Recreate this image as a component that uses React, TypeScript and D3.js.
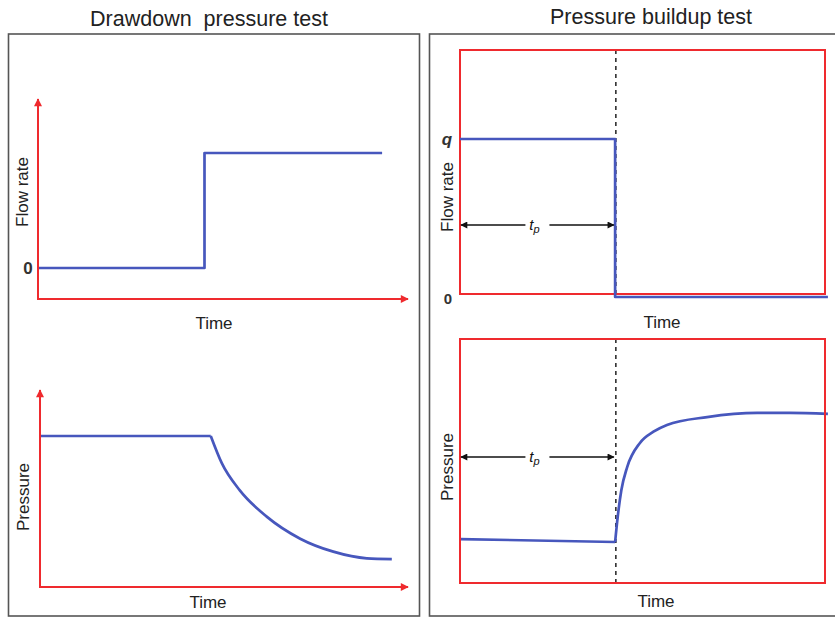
import * as d3 from 'd3';

// Drawdown test: flow rate steps up, pressure declines
const ddFlowTime = [0, 4.5, 4.5, 9.3];
const ddFlowRate = [0, 0, 1, 1];
const ddPressTime = [0, 4.64, 4.94, 5.43, 6.16, 7.07, 7.97, 8.88, 9.56];
const ddPressure = [1, 1, 0.82, 0.64, 0.466, 0.32, 0.234, 0.19, 0.185];

// Buildup test: well shut in at tp, pressure recovers
const tp = 4.27;
const buFlowTime = [0, 4.25, 4.25, 10.08];
const buFlowRate = [1, 1, 0, 0];
const buPressTime = [0, 4.25, 4.32, 4.42, 4.58, 4.93, 5.3, 5.67, 6.77, 8.14, 9.04, 10.08];
const buPressure = [0.18, 0.168, 0.27, 0.38, 0.475, 0.574, 0.62, 0.648, 0.68, 0.697, 0.697, 0.693];

const titles = ['Drawdown  pressure test', 'Pressure buildup test'];

const RED = '#ef2a2e';
const BLUE = '#4757bd';
const FONT = '"Liberation Sans", Arial, sans-serif';

type Pt = [number, number];
const zip = (xs: number[], ys: number[]): Pt[] => xs.map((x, i) => [x, ys[i]]);

const App = () => {
  // scales
  const xLT = d3.scaleLinear().domain([0, 10]).range([38, 408]);
  const yLT = d3.scaleLinear().domain([0, 1]).range([268, 153]);
  const xLB = d3.scaleLinear().domain([0, 10]).range([40, 408]);
  const yLB = d3.scaleLinear().domain([0, 1]).range([587, 436]);
  const xR = d3.scaleLinear().domain([0, 10]).range([460, 825]);
  const yRT = d3.scaleLinear().domain([0, 1]).range([297, 139]);
  const yRB = d3.scaleLinear().domain([0, 1]).range([583, 339]);

  const lin = (x: d3.ScaleLinear<number, number>, y: d3.ScaleLinear<number, number>) =>
    d3.line<Pt>().x((d) => x(d[0])).y((d) => y(d[1]));
  const smooth = (x: d3.ScaleLinear<number, number>, y: d3.ScaleLinear<number, number>) =>
    d3
      .line<Pt>()
      .x((d) => x(d[0]))
      .y((d) => y(d[1]))
      .curve(d3.curveMonotoneX);

  const ddFlow = zip(ddFlowTime, ddFlowRate);
  const ddPress = zip(ddPressTime, ddPressure);
  const buFlow = zip(buFlowTime, buFlowRate);
  const buPress = zip(buPressTime, buPressure);

  const blue = { fill: 'none', stroke: BLUE, strokeWidth: 2.7, strokeLinejoin: 'round' as const };
  const red = { fill: 'none', stroke: RED, strokeWidth: 2 };
  const label = { fontFamily: FONT, fontSize: 17, fill: '#222' };

  const tpArrow = (y: number) => {
    const x0 = xR(0) + 1;
    const x1 = xR(tp) - 2;
    const mid = (x0 + x1) / 2;
    return (
      <g>
        <line x1={x0} x2={mid - 12} y1={y} y2={y} stroke="#111" strokeWidth={1.4} markerStart="url(#blk-s)" />
        <line x1={mid + 12} x2={x1} y1={y} y2={y} stroke="#111" strokeWidth={1.4} markerEnd="url(#blk)" />
        <text x={mid - 3} y={y + 5} fontFamily={FONT} fontSize={15} fontStyle="italic" textAnchor="middle" fill="#111">
          t<tspan fontSize={11} dy={3}>p</tspan>
        </text>
      </g>
    );
  };

  return (
    <svg width={835} height={618} style={{ position: 'absolute', left: 0, top: 0, background: '#fff' }}>
      <defs>
        <marker id="red" viewBox="0 0 10 10" refX="9" refY="5" markerWidth={12} markerHeight={8} markerUnits="userSpaceOnUse" orient="auto">
          <path d="M0,0L10,5L0,10Z" fill={RED} />
        </marker>
        <marker id="blk" viewBox="0 0 10 10" refX="9" refY="5" markerWidth={11} markerHeight={7} markerUnits="userSpaceOnUse" orient="auto">
          <path d="M0,0L10,5L0,10Z" fill="#111" />
        </marker>
        <marker id="blk-s" viewBox="0 0 10 10" refX="1" refY="5" markerWidth={11} markerHeight={7} markerUnits="userSpaceOnUse" orient="auto">
          <path d="M10,0L0,5L10,10Z" fill="#111" />
        </marker>
      </defs>

      {/* titles */}
      <text x={209} y={26} textAnchor="middle" fontFamily={FONT} fontSize={21.5} fill="#222" style={{ whiteSpace: 'pre' }}>{titles[0]}</text>
      <text x={651} y={24} textAnchor="middle" fontFamily={FONT} fontSize={21.5} fill="#222">{titles[1]}</text>

      {/* panel frames */}
      <rect x={8.5} y={34} width={411} height={582} fill="none" stroke="#555" strokeWidth={1.6} />
      <rect x={429.5} y={34} width={412} height={582} fill="none" stroke="#555" strokeWidth={1.6} />

      {/* ---- left top: flow rate ---- */}
      <path d={lin(xLT, yLT)(ddFlow) ?? ''} {...blue} />
      <line x1={xLT(0)} x2={xLT(0)} y1={299} y2={99} {...red} markerEnd="url(#red)" />
      <line x1={xLT(0) - 1} x2={xLT(10)} y1={299} y2={299} {...red} markerEnd="url(#red)" />
      <text x={28} y={yLT(0) + 6} textAnchor="middle" {...label} fontWeight="bold" fill="#333">0</text>
      <text transform={`translate(28,192) rotate(-90)`} textAnchor="middle" {...label}>Flow rate</text>
      <text x={214} y={329} textAnchor="middle" {...label}>Time</text>

      {/* ---- left bottom: pressure ---- */}
      <path d={lin(xLB, yLB)(ddPress.slice(0, 2)) ?? ''} {...blue} />
      <path d={smooth(xLB, yLB)(ddPress.slice(1)) ?? ''} {...blue} />
      <line x1={xLB(0)} x2={xLB(0)} y1={yLB(0)} y2={390} {...red} markerEnd="url(#red)" />
      <line x1={xLB(0) - 1} x2={xLB(10)} y1={yLB(0)} y2={yLB(0)} {...red} markerEnd="url(#red)" />
      <text transform={`translate(29,497) rotate(-90)`} textAnchor="middle" {...label}>Pressure</text>
      <text x={208} y={608} textAnchor="middle" {...label}>Time</text>

      {/* ---- right top: flow rate ---- */}
      <line x1={xR(tp)} x2={xR(tp)} y1={50} y2={296} stroke="#222" strokeWidth={1.5} strokeDasharray="4,4" />
      <rect x={xR(0)} y={50} width={xR(10) - xR(0)} height={244} {...red} />
      <path d={lin(xR, yRT)(buFlow) ?? ''} {...blue} />
      {tpArrow(225)}
      <text x={447} y={yRT(1) + 6} textAnchor="middle" {...label} fontWeight="bold" fontStyle="italic" fill="#333">q</text>
      <text x={448} y={yRT(0) + 7} textAnchor="middle" {...label} fontSize={15} fontWeight="bold" fill="#333">0</text>
      <text transform={`translate(453,197) rotate(-90)`} textAnchor="middle" {...label}>Flow rate</text>
      <text x={662} y={328} textAnchor="middle" {...label}>Time</text>

      {/* ---- right bottom: pressure ---- */}
      <line x1={xR(tp)} x2={xR(tp)} y1={339} y2={587} stroke="#222" strokeWidth={1.5} strokeDasharray="4,4" />
      <path d={lin(xR, yRB)(buPress.slice(0, 2)) ?? ''} {...blue} />
      <path d={smooth(xR, yRB)(buPress.slice(1)) ?? ''} {...blue} />
      <rect x={xR(0)} y={339} width={xR(10) - xR(0)} height={244} {...red} />
      {tpArrow(457)}
      <text transform={`translate(453,467) rotate(-90)`} textAnchor="middle" {...label}>Pressure</text>
      <text x={656} y={607} textAnchor="middle" {...label}>Time</text>
    </svg>
  );
};

export default App;
